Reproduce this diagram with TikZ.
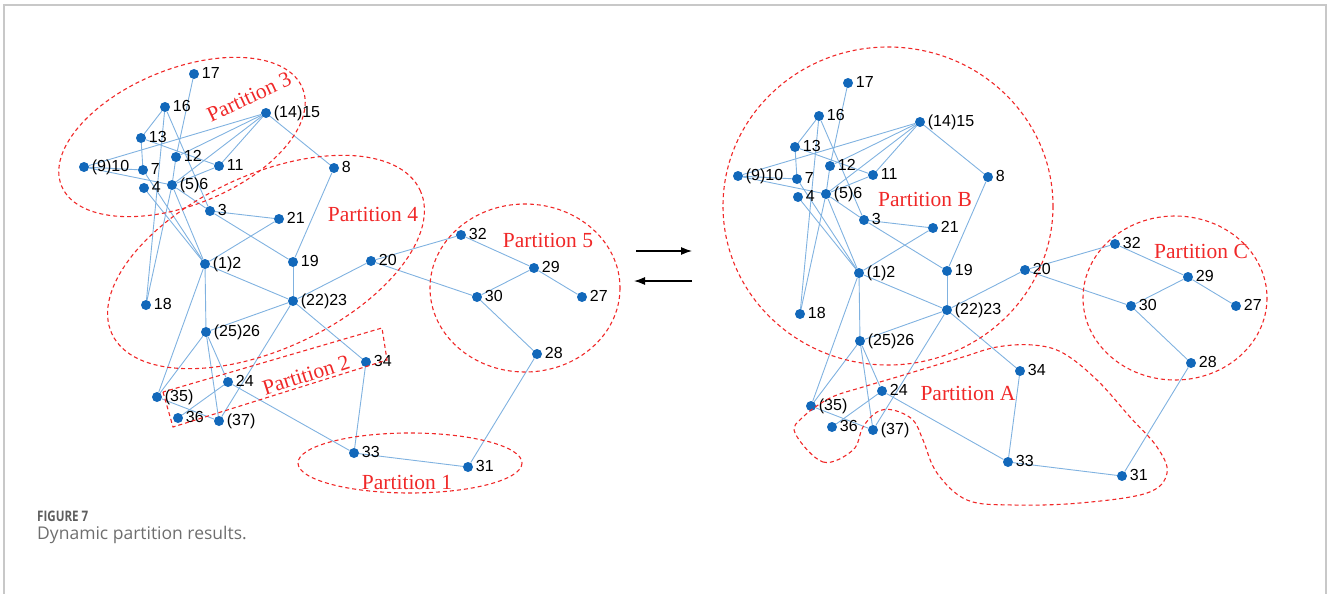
\documentclass[tikz,border=0pt]{standalone}
\usepackage{fontspec}
\usetikzlibrary{arrows.meta,backgrounds}
\newfontfamily\busfont{Liberation Sans}
\newfontfamily\partfont{Liberation Serif}
\newfontfamily\capfont{Open Sans}
\newfontfamily\figfont[FakeStretch=0.8]{Open Sans}
\definecolor{busblue}{RGB}{18,104,186}
\definecolor{lineblue}{RGB}{128,178,224}
\definecolor{partred}{RGB}{240,40,40}
\definecolor{capgray}{RGB}{110,110,110}
\definecolor{framegray}{RGB}{200,200,200}

\tikzset{
  bus/.style={circle, fill=busblue, inner sep=0pt, minimum size=10pt},
  buslabel/.style={font=\busfont\fontsize{16}{19}\selectfont, inner sep=0.5pt,
    text height=11.5pt, text depth=2.5pt, label distance=2pt},
  feeder/.style={draw=lineblue, line width=0.9pt},
  part/.style={draw=partred, line width=1.1pt, dash pattern=on 4pt off 3pt},
  parttext/.style={text=partred, font=\partfont\fontsize{21.5}{25}\selectfont},
  swap/.style={line width=1.2pt, -{Latex[length=11pt,width=8pt]}}
}

% one copy of the network, #1 is the name prefix
\newcommand{\busnet}[1]{%
  \foreach \n/\x/\y/\lbl in {17/194/74/17, 16/165/107/16, 15/266/113/(14)15,
      13/141/138/13, 12/176/157/12, 10/84/167/(9)10, 7/143/170/7, 11/219/166/11,
      8/334/168/8, 4/144/188/4, 6/172/185/(5)6, 3/210/211/3, 21/279/219/21,
      2/205/264/(1)2, 19/293/262/19, 20/371/261/20, 32/461/235/32, 29/534/268/29,
      30/477/297/30, 27/582/297/27, 18/146/305/18, 23/293/301/(22)23,
      26/206/332/(25)26, 34/366/362/34, 28/537/354/28, 24/228/382/24,
      35/157/397/(35), 36/178/418/36, 37/219/421/(37), 33/354/453/33, 31/468/467/31}
    \node[bus, label={[buslabel]right:\lbl}] (#1\n) at (\x,\y) {};
  \begin{scope}[on background layer]
    \foreach \a/\b in {17/12, 12/6, 6/18, 16/13, 16/3, 16/18, 15/10, 15/12, 15/6,
        15/11, 15/8, 13/7, 13/11, 10/7, 10/6, 7/2, 4/2, 6/2, 6/11, 6/3, 3/21,
        3/19, 21/2, 8/19, 19/23, 2/23, 2/26, 2/35, 23/20, 23/26, 23/37, 23/34,
        20/32, 20/30, 32/29, 29/30, 29/27, 30/28, 28/31, 31/33, 33/34, 33/24,
        26/35, 26/24, 26/37, 24/36, 35/37}
      \draw[feeder] (#1\a) -- (#1\b);
  \end{scope}
}

\begin{document}
\begin{tikzpicture}[x=1pt, y=-1pt]
\useasboundingbox (0,0) rectangle (1328,594);
% frame
\draw[framegray, line width=1.5pt] (4,594) -- (4,5) -- (1326,5) -- (1326,594);

% before
\busnet{L}
\draw[part, rotate around={22:(182,137)}] (182,137) ellipse [x radius=130, y radius=68];
\draw[part, rotate around={25:(266,262)}] (266,262) ellipse [x radius=170, y radius=87];
\draw[part] (525,288) ellipse [x radius=95, y radius=84];
\draw[part] (410,463) ellipse [x radius=112, y radius=30];
\draw[part] (163,392) -- (173,427) -- (387,360) -- (382,328) -- cycle;
\node[parttext, rotate=25] (p3) at (249,97) {Partition 3};
\node[parttext] (p4) at (373,214) {Partition 4};
\node[parttext] (p5) at (548,240) {Partition 5};
\node[parttext, rotate=18] (p2) at (306,375) {Partition 2};
\node[parttext] (p1) at (407,482) {Partition 1};

% switching arrows
\coordinate (fwdA) at (636,251);
\coordinate (fwdB) at (692,251);
\coordinate (bckA) at (692,281);
\coordinate (bckB) at (634,281);
\draw[swap] (fwdA) -- (fwdB);
\draw[swap] (bckA) -- (bckB);

% after
\begin{scope}[shift={(654,9)}]
  \busnet{R}
\end{scope}
\draw[part] (888,206) ellipse [x radius=165, y radius=159];
\draw[part] (1175,298) ellipse [x radius=92, y radius=82];
\draw[part] plot[smooth cycle, tension=0.6] coordinates {(795,433) (823,462) (853,450)
  (863,427) (877,412) (893,410) (913,420) (923,440) (937,473) (967,500) (1013,505)
  (1080,503) (1147,493) (1167,473) (1157,447) (1130,417) (1097,380) (1063,353)
  (1033,345) (997,347) (963,357) (930,367) (897,377) (863,387) (830,398) (803,417)};
\node[parttext] (pB) at (925,199) {Partition B};
\node[parttext] (pA) at (968,393) {Partition A};
\node[parttext] (pC) at (1201,251) {Partition C};

% caption
\node[anchor=base west, inner sep=0pt, text=capgray!85!black,
  font=\figfont\bfseries\fontsize{14.5}{17}\selectfont] (fig) at (37,521) {FIGURE 7};
\node[anchor=base west, inner sep=0pt, text=capgray,
  font=\capfont\fontsize{17.5}{20}\selectfont] (cap) at (37,539) {Dynamic partition results.};
\end{tikzpicture}
\end{document}
